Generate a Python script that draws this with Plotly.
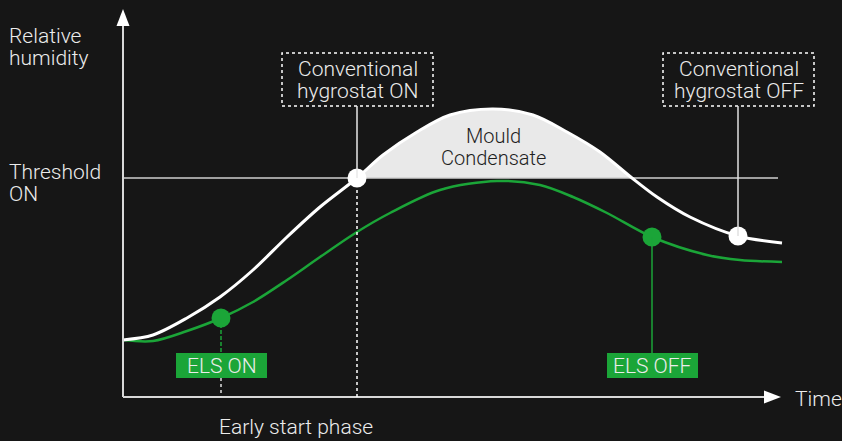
import plotly.graph_objects as go

# ---- data (schematic units: time 0..660, relative humidity 0..390) ----
white_time = [0, 30, 64, 97, 130, 164, 197, 234, 260, 294, 327, 370, 410, 444, 477, 509, 534, 567, 615, 659]
white_hum = [57, 62, 79, 100, 127, 160, 190, 219, 242, 265, 282, 288, 282, 265, 245, 219, 200, 180, 161, 154]

green_time = [0, 30, 64, 98, 130, 164, 197, 234, 267, 317, 374, 417, 450, 484, 529, 584, 617, 659]
green_hum = [57, 56, 66, 79, 95, 117, 140, 165, 184, 207, 216, 212, 200, 184, 160, 142, 137, 135]

threshold_on = 219

hyg_on_time, hyg_on_hum = 234, 219
hyg_off_time, hyg_off_hum = 615, 161
els_on_time, els_on_hum = 98, 79
els_off_time, els_off_hum = 529, 160

BG = "#161616"
GREEN = "#1ba538"
WHITE = "#ffffff"
AX = "#d8d8d8"
FONT = "Roboto"
FS = 21

fig = go.Figure()

# mould/condensate fill (white curve above threshold)
fill_t = [t for t, h in zip(white_time, white_hum) if h >= threshold_on]
fill_h = [h for h in white_hum if h >= threshold_on]
fig.add_trace(go.Scatter(x=fill_t, y=fill_h, mode="lines",
                         line=dict(color="#e9e9e9", width=0, shape="spline", smoothing=0.9),
                         fill="toself", fillcolor="#e9e9e9", hoverinfo="skip"))

# threshold line
fig.add_trace(go.Scatter(x=[0, 655], y=[threshold_on, threshold_on], mode="lines",
                         line=dict(color="#cfcfcf", width=1.5), hoverinfo="skip"))

# curves
fig.add_trace(go.Scatter(x=green_time, y=green_hum, mode="lines",
                         line=dict(color=GREEN, width=2.5, shape="spline", smoothing=0.9)))
fig.add_trace(go.Scatter(x=white_time, y=white_hum, mode="lines",
                         line=dict(color=WHITE, width=3, shape="spline", smoothing=0.9)))

shapes = []
# axes
shapes.append(dict(type="line", x0=0, y0=0, x1=0, y1=375, line=dict(color=AX, width=2)))
shapes.append(dict(type="line", x0=0, y0=0, x1=645, y1=0, line=dict(color=AX, width=2)))
shapes.append(dict(type="path", path="M -6.5 371 L 6.5 371 L 0 388 Z", fillcolor=WHITE, line=dict(width=0)))
shapes.append(dict(type="path", path="M 641 6.5 L 641 -6.5 L 658 0 Z", fillcolor=WHITE, line=dict(width=0)))

# hygrostat ON
shapes.append(dict(type="rect", x0=159, x1=310, y0=291, y1=344, line=dict(color=WHITE, width=1.5, dash="dot")))
shapes.append(dict(type="line", x0=hyg_on_time, x1=hyg_on_time, y0=291, y1=hyg_on_hum, line=dict(color="#e8e8e8", width=1.5)))
shapes.append(dict(type="line", x0=hyg_on_time, x1=hyg_on_time, y0=hyg_on_hum, y1=0, line=dict(color=WHITE, width=1.5, dash="3px,3px")))
# hygrostat OFF
shapes.append(dict(type="rect", x0=540, x1=691, y0=291, y1=344, line=dict(color=WHITE, width=1.5, dash="dot")))
shapes.append(dict(type="line", x0=hyg_off_time, x1=hyg_off_time, y0=291, y1=hyg_off_hum, line=dict(color="#e0e0e0", width=1.5)))
# ELS ON
shapes.append(dict(type="line", x0=els_on_time, x1=els_on_time, y0=els_on_hum, y1=44, line=dict(color=GREEN, width=1.5, dash="4px,2px")))
shapes.append(dict(type="line", x0=els_on_time, x1=els_on_time, y0=19, y1=0, line=dict(color="#e0e0e0", width=1.5, dash="3px,3px")))
shapes.append(dict(type="rect", x0=53, x1=144, y0=19, y1=44, fillcolor=GREEN, line=dict(width=0)))
# ELS OFF
shapes.append(dict(type="line", x0=els_off_time, x1=els_off_time, y0=els_off_hum, y1=44, line=dict(color=GREEN, width=1.5)))
shapes.append(dict(type="rect", x0=484, x1=575, y0=19, y1=44, fillcolor=GREEN, line=dict(width=0)))

# markers
fig.add_trace(go.Scatter(x=[hyg_on_time, hyg_off_time], y=[hyg_on_hum, hyg_off_hum], mode="markers",
                         marker=dict(color=WHITE, size=19, line=dict(width=0))))
fig.add_trace(go.Scatter(x=[els_on_time, els_off_time], y=[els_on_hum, els_off_hum], mode="markers",
                         marker=dict(color=GREEN, size=19, line=dict(width=0))))

tf = dict(family=FONT, size=FS, color="#ececec", weight=300)
dark = dict(family=FONT, size=20, color="#1e1e1e", weight=300)
ann = [
    dict(x=-116, y=361, text="Relative", xanchor="left"),
    dict(x=-116, y=339, text="humidity", xanchor="left"),
    dict(x=-116, y=225, text="Threshold", xanchor="left"),
    dict(x=-116, y=203, text="ON", xanchor="left"),
    dict(x=670, y=-2, text="Time", xanchor="left"),
    dict(x=173, y=-30, text="Early start phase", xanchor="center"),
    dict(x=234.5, y=328, text="Conventional", xanchor="center"),
    dict(x=234.5, y=306, text="hygrostat ON", xanchor="center"),
    dict(x=615.5, y=328, text="Conventional", xanchor="center"),
    dict(x=615.5, y=306, text="hygrostat OFF", xanchor="center"),
    dict(x=370, y=261, text="Mould", xanchor="center", font=dark),
    dict(x=370, y=239, text="Condensate", xanchor="center", font=dark),
    dict(x=98.5, y=31.5, text="ELS ON", xanchor="center"),
    dict(x=529.5, y=31.5, text="ELS OFF", xanchor="center"),
]
annotations = []
for a in ann:
    d = dict(showarrow=False, yanchor="middle", font=tf, xref="x", yref="y")
    d.update(a)
    annotations.append(d)

fig.update_layout(
    width=842, height=441,
    margin=dict(l=0, r=0, t=0, b=0),
    paper_bgcolor=BG, plot_bgcolor=BG,
    showlegend=False,
    xaxis=dict(range=[-123, 719], visible=False, fixedrange=True),
    yaxis=dict(range=[-44, 397], visible=False, fixedrange=True),
    shapes=shapes,
    annotations=annotations,
)

fig.write_html("out.html", post_script="document.body.style.margin='0';document.body.style.background='#161616';",
               config={"displayModeBar": False})
